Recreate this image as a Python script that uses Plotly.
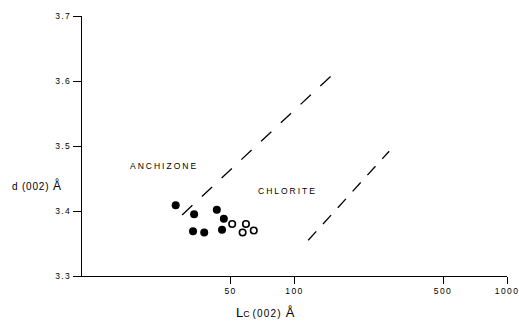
import plotly.graph_objects as go

# Data
filled_lc = [27.6, 33.7, 43.1, 46.5, 33.3, 37.6, 45.6]
filled_d = [3.409, 3.395, 3.402, 3.388, 3.369, 3.367, 3.371]
open_lc = [50.9, 59.1, 57.0, 64.3]
open_d = [3.380, 3.380, 3.367, 3.370]

# Boundary (dashed) lines
line1_lc = [29.6, 150]
line1_d = [3.394, 3.609]
line2_lc = [116, 279]
line2_d = [3.355, 3.492]

x_tickvals = [50, 100, 500, 1000]
x_ticklabels = ["50", "100", "500", "1000"]
y_tickvals = [3.3, 3.4, 3.5, 3.6, 3.7]
y_ticklabels = ["3.3", "3.4", "3.5", "3.6", "3.7"]

FONT = "Liberation Sans"


def spaced(s, sp=1.4):
    return f"<span style='letter-spacing:{sp}px'>{s}</span>"


fig = go.Figure()
fig.add_trace(go.Scatter(x=line1_lc, y=line1_d, mode="lines",
                         line=dict(color="black", width=1.3, dash="14px,13px"),
                         showlegend=False, hoverinfo="skip"))
fig.add_trace(go.Scatter(x=line2_lc, y=line2_d, mode="lines",
                         line=dict(color="black", width=1.3, dash="12px,10px"),
                         showlegend=False, hoverinfo="skip"))
fig.add_trace(go.Scatter(x=filled_lc, y=filled_d, mode="markers",
                         marker=dict(symbol="circle", size=8, color="black"),
                         showlegend=False))
fig.add_trace(go.Scatter(x=open_lc, y=open_d, mode="markers",
                         marker=dict(symbol="circle-open", size=6.5, color="black",
                                     line=dict(width=1.6, color="black")),
                         showlegend=False))

fig.add_annotation(x=1.385, y=3.469, xref="x", yref="y", text=spaced("ANCHIZONE", 2.0),
                   showarrow=False, font=dict(family=FONT, size=8.5, color="black"))
fig.add_annotation(x=1.967, y=3.431, xref="x", yref="y", text=spaced("CHLORITE", 2.0),
                   showarrow=False, font=dict(family=FONT, size=8.5, color="black"))
fig.add_annotation(x=-0.107, y=0.35, xref="paper", yref="paper",
                   xanchor="center", yanchor="middle",
                   text=spaced("d (002) ", 0.8) + "<span style='font-size:12px'>Å</span>",
                   showarrow=False, font=dict(family=FONT, size=10, color="black"))
fig.add_annotation(x=0.431, y=-0.142, xref="paper", yref="paper",
                   xanchor="center", yanchor="middle",
                   text="<span style='font-size:13px'>L</span><span style='font-size:9px'>C</span> "
                        + spaced("(002) ", 1.2) + "<span style='font-size:13px'>Å</span>",
                   showarrow=False, font=dict(family=FONT, size=10, color="black"))

fig.update_xaxes(type="log", range=[1, 3], tickvals=x_tickvals,
                 ticktext=[spaced(t) for t in x_ticklabels],
                 showgrid=False, zeroline=False, showline=True, linecolor="black",
                 linewidth=1.2, ticks="outside", ticklen=7, tickwidth=1.2,
                 tickcolor="black", automargin=False, ticklabeloverflow="allow",
                 tickfont=dict(family=FONT, size=8.5, color="black"))
fig.update_yaxes(range=[3.3, 3.7], tickvals=y_tickvals,
                 ticktext=[spaced(t) for t in y_ticklabels],
                 showgrid=False, zeroline=False, showline=True, linecolor="black",
                 linewidth=1.2, ticks="outside", ticklen=8, tickwidth=1.2,
                 tickcolor="black", automargin=False, ticklabeloverflow="allow",
                 tickfont=dict(family=FONT, size=8.5, color="black"))

fig.update_layout(width=519, height=322, margin=dict(l=82, r=12, t=16, b=46),
                  plot_bgcolor="white", paper_bgcolor="white", showlegend=False)

fig.write_html("out.html")
